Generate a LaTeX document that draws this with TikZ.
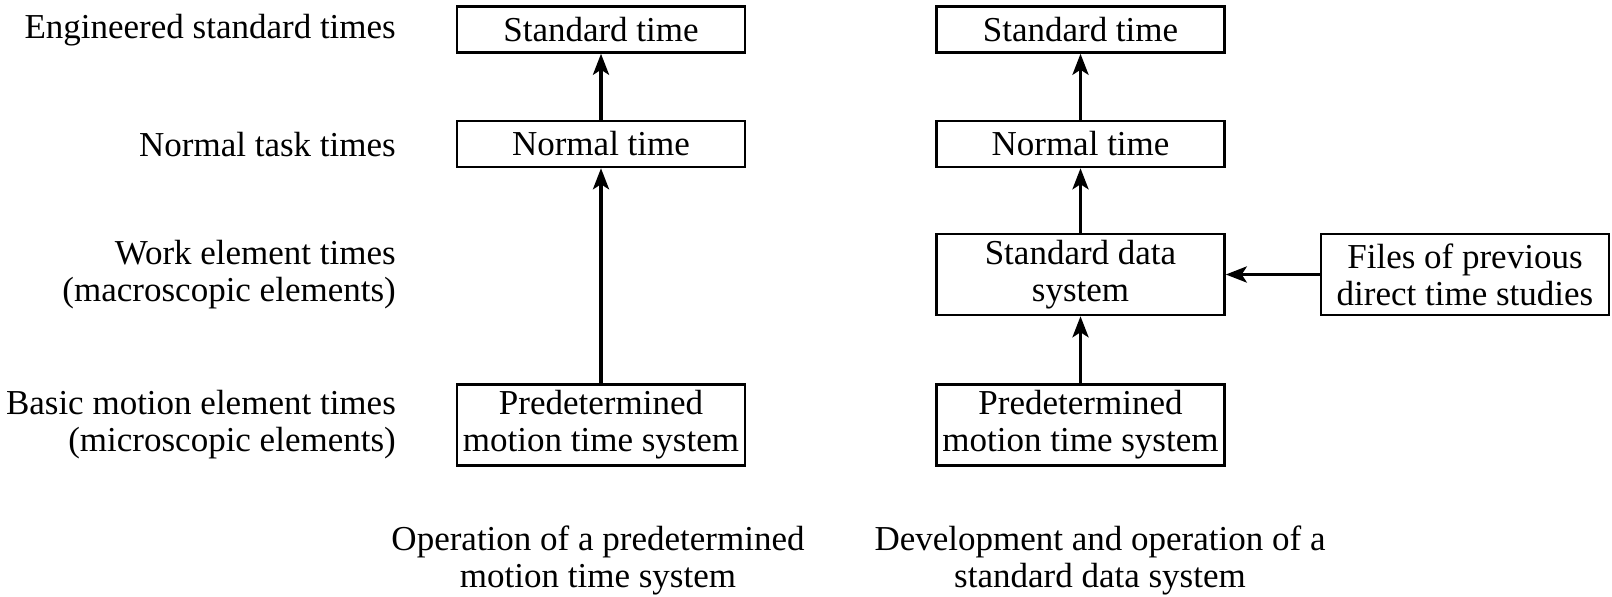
\documentclass[tikz,border=0pt]{standalone}
\usepackage{fontspec}
\setmainfont{Liberation Serif}
\usetikzlibrary{arrows.meta}
\begin{document}
\begin{tikzpicture}[x=1pt,y=-1pt,
  every node/.style={font=\fontsize{35}{37}\selectfont, inner sep=0pt},
  box/.style={draw, line width=2.5pt, minimum width=288pt, align=center},
  onebox/.style={box, minimum height=46pt},
  twobox/.style={box, minimum height=81pt},
  lbl/.style={anchor=east, align=right},
  captxt/.style={align=center},
  arr/.style={line width=3.5pt, -{Stealth[length=21pt,width=16pt,inset=5pt]}}]
\useasboundingbox (0,0) rectangle (1612,597);
% left labels
\node[lbl] (l1) at (396,30) {Engineered standard times};
\node[lbl] (l2) at (396,145) {Normal task times};
\node[lbl] (l3) at (396,275) {Work element times\\(macroscopic elements)};
\node[lbl] (l4) at (396,425) {Basic motion element times\\(microscopic elements)};
% left column
\node[onebox] (ast) at (601,29.5) {Standard time};
\node[onebox] (ant) at (601,144) {Normal time};
\node[twobox] (apm) at (601,425) {Predetermined\\motion time system};
% right column
\node[onebox] (bst) at (1080.5,29.5) {Standard time};
\node[onebox] (bnt) at (1080.5,144) {Normal time};
\node[twobox] (bsd) at (1080.5,274.5) {Standard data\\system};
\node[twobox] (bpm) at (1080.5,425) {Predetermined\\motion time system};
\node[twobox] (fil) at (1465,274.5) {Files of previous\\direct time studies};
% arrows
\draw[arr] (apm.north) -- (ant.south);
\draw[arr] (ant.north) -- (ast.south);
\draw[arr] (bpm.north) -- (bsd.south);
\draw[arr] (bsd.north) -- (bnt.south);
\draw[arr] (bnt.north) -- (bst.south);
\draw[arr] (fil.west) -- (bsd.east);
% captions
\node[captxt] (c1) at (598,560) {Operation of a predetermined\\motion time system};
\node[captxt] (c2) at (1100,560) {Development and operation of a\\standard data system};
\end{tikzpicture}
\end{document}
